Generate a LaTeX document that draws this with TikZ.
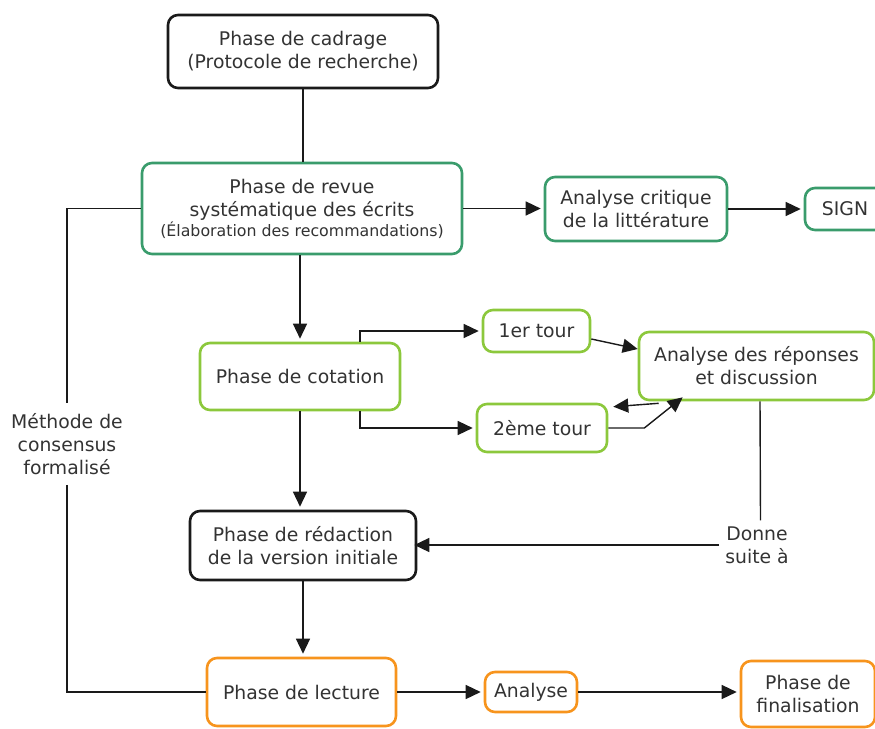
\documentclass[tikz,border=0pt]{standalone}
\usepackage{fontspec}
\setmainfont{DejaVu Sans}
\usetikzlibrary{arrows.meta,calc}
\definecolor{teal}{HTML}{3A9C6C}
\definecolor{lime}{HTML}{8CC83C}
\definecolor{orng}{HTML}{F7941D}
\definecolor{txt}{HTML}{333333}
\definecolor{edge}{HTML}{1A1A1A}
\tikzset{
  box/.style={draw=#1, line width=2.6pt, rounded corners=10pt, fill=white, text=txt,
    align=center, inner sep=0pt, font=\fontsize{18.8}{23}\selectfont},
  lbl/.style={text=txt, align=center, inner sep=0pt, font=\fontsize{18.8}{23}\selectfont},
  con/.style={draw=edge, line width=1.4pt},
  arr/.style={con, -{Triangle[length=15pt,width=14pt]}, shorten >=3pt},
}
\begin{document}
\begin{tikzpicture}[x=1pt,y=-1pt]
\useasboundingbox (0,0) rectangle (875,728);
\node[box=edge, minimum width=270pt, minimum height=73pt] (cad) at (303,51.5) {Phase de cadrage\\(Protocole de recherche)};
\node[box=teal, minimum width=320pt, minimum height=91pt] (rev) at (302,208.5) {Phase de revue\\syst\'ematique des \'ecrits\\[-3pt]{\fontsize{15.8}{18}\selectfont (\'Elaboration des recommandations)}};
\node[box=teal, minimum width=182pt, minimum height=64pt] (crit) at (636,209) {Analyse critique\\de la litt\'erature};
\node[box=teal, minimum width=80pt, minimum height=42pt] (sign) at (845,209) {SIGN};
\node[box=lime, minimum width=200pt, minimum height=67pt] (cot) at (300,376.5) {Phase de cotation};
\node[box=lime, minimum width=107pt, minimum height=42pt] (t1) at (536.5,331) {1er tour};
\node[box=lime, minimum width=235pt, minimum height=68pt] (ana) at (756.5,366) {Analyse des r\'eponses\\et discussion};
\node[box=lime, minimum width=130pt, minimum height=48pt] (t2) at (542,428) {2\`eme tour};
\node[box=edge, minimum width=226pt, minimum height=69pt] (red) at (303,545.5) {Phase de r\'edaction\\de la version initiale};
\node[box=orng, minimum width=189pt, minimum height=68pt] (lec) at (301.5,692) {Phase de lecture};
\node[box=orng, minimum width=92pt, minimum height=40pt] (anl) at (531,692) {Analyse};
\node[box=orng, minimum width=134pt, minimum height=66pt] (fin) at (808,694) {Phase de\\finalisation};
\node[lbl] (meth) at (67,444) {M\'ethode de\\consensus\\formalis\'e};
\node[lbl] (donne) at (757,545) {Donne\\suite \`a};
% connectors
\draw[con] (cad.south) -- (cad.south |- rev.north);
\draw[arr] (rev.east) -- (rev.east -| crit.west);
\draw[arr] (crit.east) -- (crit.east -| sign.west);
\draw[arr] (cot.north |- rev.south) -- (cot.north);
\draw[arr] ([xshift=60pt]cot.north) |- (t1.west);
\draw[arr] ([xshift=60pt]cot.south) |- (t2.west);
\draw[arr,shorten >=0pt] ([yshift=-8pt]t1.east) -- ([yshift=17pt]ana.west);
\draw[arr,shorten >=0pt] ([xshift=21pt,yshift=-2pt]ana.south west) -- ([xshift=5pt,yshift=-4pt]t2.north east);
\draw[arr,shorten >=0pt] (t2.east) -- ++(36pt,0) -- ([xshift=45pt,yshift=4pt]ana.south west);
\draw[con] ([xshift=3.5pt]ana.south) -- ([xshift=3.5pt,yshift=6pt]donne.north);
\draw[arr] ([xshift=-6pt]donne.west) -- ([xshift=-6pt]donne.west -| red.east);
\draw[arr] (cot.south) -- (cot.south |- red.north);
\draw[arr] (red.south) -- (red.south |- lec.north);
\draw[con] (rev.west) -| ([yshift=10pt]meth.north);
\draw[con] ([yshift=-10pt]meth.south) |- (lec.west);
\draw[arr] (lec.east) -- (anl.west);
\draw[arr] (anl.east) -- (anl.east -| fin.west);
\end{tikzpicture}
\end{document}
